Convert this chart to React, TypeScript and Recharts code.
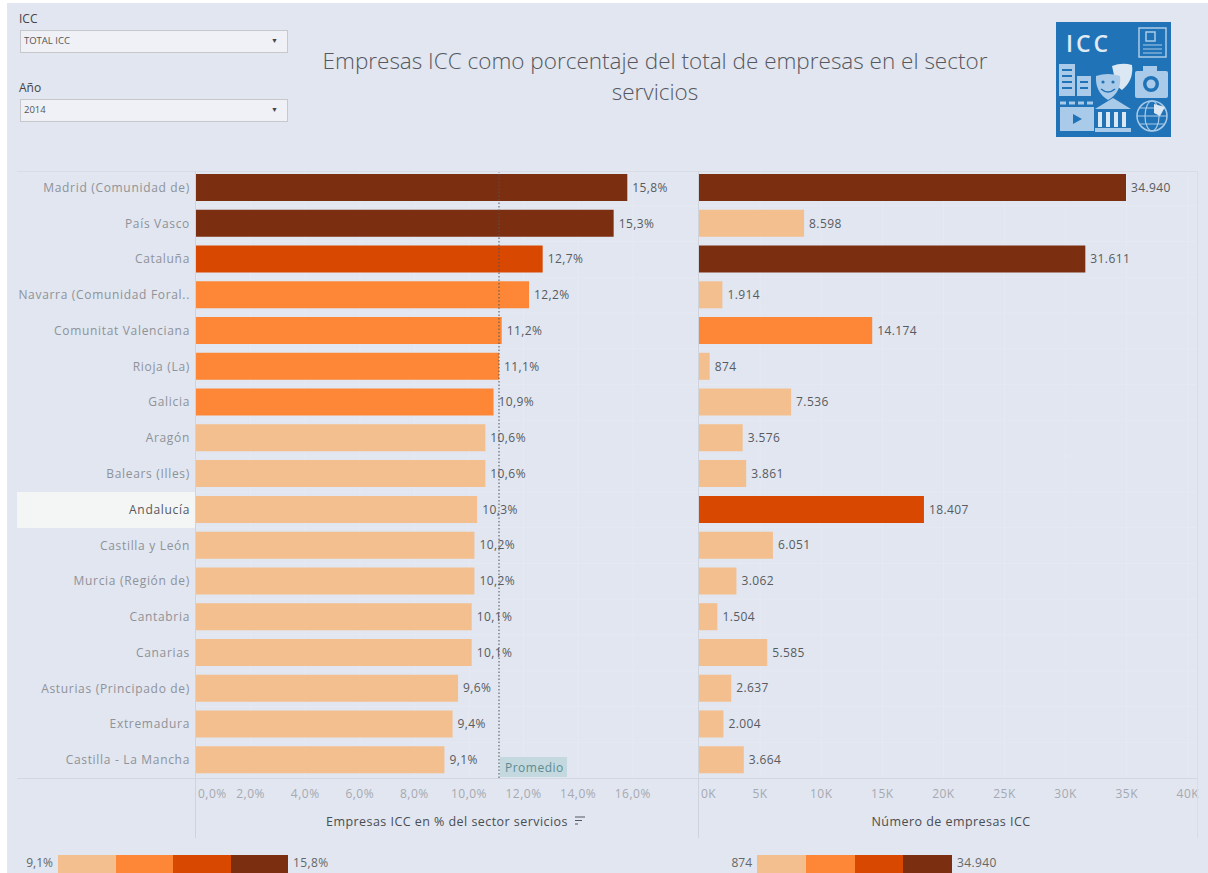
import React from "react";
import { BarChart, Bar, XAxis, YAxis, Cell, CartesianGrid, LabelList, ReferenceLine } from "recharts";

const regions = [
  "Madrid (Comunidad de)", "País Vasco", "Cataluña", "Navarra (Comunidad Foral..", "Comunitat Valenciana",
  "Rioja (La)", "Galicia", "Aragón", "Balears (Illes)", "Andalucía", "Castilla y León", "Murcia (Región de)",
  "Cantabria", "Canarias", "Asturias (Principado de)", "Extremadura", "Castilla - La Mancha",
];
const sharePct = [15.8, 15.3, 12.7, 12.2, 11.2, 11.1, 10.9, 10.6, 10.6, 10.3, 10.2, 10.2, 10.1, 10.1, 9.6, 9.4, 9.1];
const companies = [34940, 8598, 31611, 1914, 14174, 874, 7536, 3576, 3861, 18407, 6051, 3062, 1504, 5585, 2637, 2004, 3664];
const shareTicks = [0, 2, 4, 6, 8, 10, 12, 14, 16];
const companyTicks = [0, 5000, 10000, 15000, 20000, 25000, 30000, 35000, 40000];
const averageShare = 11.1;
const palette = ["#f3bf8e", "#fd8736", "#d94801", "#7c2e10"];
const highlighted = "Andalucía";

const rows = regions.map((region, i) => ({ region, share: sharePct[i], count: companies[i] }));

const FONT = "'Open Sans', sans-serif";
const PLOT_H = 608;
const AXIS_H = 62;
const BAR_H = 27;

const fmtPct = (v: number) => v.toFixed(1).replace(".", ",") + "%";
const fmtCount = (v: number) => String(v).replace(/\B(?=(\d{3})+$)/g, ".");
const fmtK = (v: number) => v / 1000 + "K";

// Four equal steps between the smallest and largest value of a measure.
function stepColor(v: number, list: number[]) {
  const lo = Math.min(...list);
  const hi = Math.max(...list);
  const idx = Math.min(3, Math.floor(((v - lo) / (hi - lo)) * 4));
  return palette[idx];
}

function rowLines(height: number) {
  const step = height / regions.length;
  return regions.slice(1).map((_, i) => step * (i + 1));
}

function XTick({ x, y, payload, format }: any) {
  const first = payload.value === 0;
  return (
    <text x={first ? x + 2 : x} y={y + 12} textAnchor={first ? "start" : "middle"} fontSize={12} fontFamily={FONT} fill="#a6a9b0" letterSpacing={0.5}>
      {format(payload.value)}
    </text>
  );
}

function RegionTick({ x, y, payload }: any) {
  const active = payload.value === highlighted;
  return (
    <text x={x} y={y + 4} textAnchor="end" fontSize={12} fontFamily={FONT} fill={active ? "#55585e" : "#8f9298"} letterSpacing={0.68}>
      {payload.value}
    </text>
  );
}

function AverageTag({ viewBox }: any) {
  const x = viewBox.x + 1;
  const bottom = viewBox.y + viewBox.height;
  return (
    <g>
      <rect x={x} y={bottom - 21} width={67} height={20} fill="#c3d9df" />
      <text x={x + 5} y={bottom - 6} fontSize={12} fontFamily={FONT} fill="#5e8b92" letterSpacing={0.5}>Promedio</text>
    </g>
  );
}

function Dropdown({ top, label, value }: { top: number; label: string; value: string }) {
  return (
    <>
      <div style={{ position: "absolute", left: 19, top: top - 20, fontSize: 12, color: "#444", fontFamily: FONT }}>{label}</div>
      <div style={{ position: "absolute", left: 20, top, width: 266, height: 21, background: "#eff1f6", border: "1px solid #c6c8cc", fontFamily: FONT, fontSize: 9.5, color: "#555", lineHeight: "20px" }}>
        <span style={{ marginLeft: 3 }}>{value}</span>
        <span style={{ position: "absolute", right: 9, top: 0, fontSize: 7, color: "#444" }}>▼</span>
      </div>
    </>
  );
}

function StepLegend({ left, width, lo, hi, loWidth }: { left: number; width: number; lo: string; hi: string; loWidth: number }) {
  return (
    <>
      <div style={{ position: "absolute", left: left - loWidth - 5, width: loWidth, top: 855, textAlign: "right", fontSize: 12, color: "#666", fontFamily: FONT, lineHeight: "16px" }}>{lo}</div>
      <div style={{ position: "absolute", left, top: 855, width, height: 18, display: "flex" }}>
        {palette.map((c) => <div key={c} style={{ flex: 1, background: c }} />)}
      </div>
      <div style={{ position: "absolute", left: left + width + 5, top: 855, fontSize: 12, color: "#666", fontFamily: FONT, lineHeight: "16px", letterSpacing: 0.4 }}>{hi}</div>
    </>
  );
}

function Logo() {
  const pale = "#a9cbe9";
  const base = "#2173b7";
  return (
    <svg style={{ position: "absolute", left: 1056, top: 22 }} width={115} height={115}>
      <rect width={115} height={115} fill={base} />
      <text x={10} y={30} fontSize={23} fontWeight={600} fontFamily={FONT} fill="#dfeaf4" letterSpacing={3}>ICC</text>
      {/* newspaper */}
      <rect x={83} y={6} width={27} height={29} fill="none" stroke={pale} strokeWidth={1.5} />
      <rect x={90} y={10} width={9} height={9} fill="none" stroke={pale} strokeWidth={1.5} />
      <path d="M87 23h19M87 27h19M87 31h19" stroke={pale} strokeWidth={1.2} />
      {/* buildings */}
      <rect x={3} y={42} width={16} height={32} fill={pale} />
      <rect x={21} y={54} width={14} height={20} fill={pale} />
      <path d="M6 48h10M6 54h10M6 60h10M6 66h10M24 60h8M24 66h8" stroke={base} strokeWidth={2} />
      {/* theatre masks */}
      <path d="M56 44q10 -4 20 -1q2 15 -10 25q-3 -2 -6 -6z" fill="#dbe8f3" />
      <path d="M40 54q12 -4 24 0q2 16 -12 24q-13 -8 -12 -24z" fill={pale} />
      <path d="M45 67q7 6 14 0" stroke={base} strokeWidth={1.6} fill="none" />
      <circle cx={47} cy={60} r={1.6} fill={base} />
      <circle cx={57} cy={60} r={1.6} fill={base} />
      {/* camera */}
      <rect x={79} y={49} width={33} height={27} rx={2} fill={pale} />
      <rect x={87} y={44} width={14} height={6} fill={pale} />
      <circle cx={95} cy={62} r={8} fill={base} />
      <circle cx={95} cy={62} r={4.5} fill={pale} />
      {/* clapperboard */}
      <rect x={4} y={85} width={34} height={24} fill={pale} />
      <path d="M4 81h34" stroke={pale} strokeWidth={3} strokeDasharray="6 3" />
      <path d="M17 92l9 5l-9 5z" fill={base} />
      {/* museum */}
      <path d="M57 76l18 11h-36z" fill={pale} />
      <path d="M44 90v15M52 90v15M60 90v15M68 90v15" stroke="#dbe8f3" strokeWidth={4} />
      <rect x={39} y={106} width={36} height={4} fill={pale} />
      {/* globe */}
      <circle cx={96} cy={94} r={15} fill="none" stroke={pale} strokeWidth={1.5} />
      <ellipse cx={96} cy={94} rx={7} ry={15} fill="none" stroke={pale} strokeWidth={1.2} />
      <path d="M81 94h30M84 86h24M84 102h24" stroke={pale} strokeWidth={1.2} />
      <path d="M98 82l11 3l-5 9l-6 -3z" fill="#dbe8f3" />
    </svg>
  );
}

export default function App() {
  const axisTitle = { position: "insideBottom" as const, offset: 14, fontSize: 12.5, fontFamily: FONT, fill: "#4a4d52", letterSpacing: 0.45 };
  return (
    <div style={{ position: "fixed", left: 0, top: 0, width: 1208, height: 873, overflow: "hidden", background: "#fff" }}>
      <div style={{ position: "absolute", left: 7, top: 3, right: 0, bottom: 0, background: "#e1e6f0" }} />

      {/* highlighted row behind the category label */}
      <div style={{ position: "absolute", left: 17, top: 492, width: 178, height: 36, background: "#f4f5f5" }} />

      {/* share of service-sector companies */}
      <div style={{ position: "absolute", left: 0, top: 170 }}>
        <BarChart width={698} height={PLOT_H + AXIS_H} data={rows} layout="vertical" margin={{ top: 0, right: 0, bottom: 0, left: 0 }} barSize={BAR_H}>
          <CartesianGrid stroke="#e6e9f2" horizontalCoordinatesGenerator={() => rowLines(PLOT_H)} />
          <XAxis
            type="number" dataKey="share" domain={[0, 18.39]} ticks={shareTicks} height={AXIS_H} allowDataOverflow
            axisLine={false} tickLine={false} tick={<XTick format={fmtPct} />} interval={0}
            label={{ value: "Empresas ICC en % del sector servicios", ...axisTitle }}
          />
          <YAxis type="category" dataKey="region" width={196} axisLine={false} tickLine={false} tickSize={0} tickMargin={6} tick={<RegionTick />} interval={0} />
          <Bar dataKey="share" isAnimationActive={false}>
            {rows.map((r) => <Cell key={r.region} fill={stepColor(r.share, sharePct)} />)}
            <LabelList dataKey="share" position="right" offset={5} formatter={fmtPct as any} fontSize={12} fontFamily={FONT} fill="#585b60" letterSpacing={0.4} />
          </Bar>
          <ReferenceLine x={averageShare} stroke="#4f5257" strokeDasharray="1.5 2" strokeWidth={1} label={<AverageTag />} />
        </BarChart>
      </div>

      {/* number of companies: the right margin leaves room for the last tick */}
      <div style={{ position: "absolute", left: 699, top: 170 }}>
        <BarChart width={509} height={PLOT_H + AXIS_H} data={rows} layout="vertical" margin={{ top: 0, right: 11, bottom: 0, left: 0 }} barSize={BAR_H}>
          <CartesianGrid stroke="#e6e9f2" horizontalCoordinatesGenerator={() => rowLines(PLOT_H)} />
          <XAxis
            type="number" dataKey="count" domain={[0, 40750]} ticks={companyTicks} height={AXIS_H} allowDataOverflow
            axisLine={false} tickLine={false} tick={<XTick format={fmtK} />} interval={0}
            label={{ value: "Número de empresas ICC", ...axisTitle, dx: 3 }}
          />
          <YAxis type="category" dataKey="region" hide />
          <Bar dataKey="count" isAnimationActive={false}>
            {rows.map((r) => <Cell key={r.region} fill={stepColor(r.count, companies)} />)}
            <LabelList dataKey="count" position="right" offset={5} formatter={fmtCount as any} fontSize={12} fontFamily={FONT} fill="#585b60" letterSpacing={0.4} />
          </Bar>
        </BarChart>
      </div>

      {/* panel rules */}
      <div style={{ position: "absolute", left: 17, top: 171, width: 1180, height: 1, background: "#d8dce4" }} />
      <div style={{ position: "absolute", left: 17, top: 778, width: 1180, height: 1, background: "#d3d7df" }} />
      <div style={{ position: "absolute", left: 195, top: 171, width: 1, height: 667, background: "#cfd3db" }} />
      <div style={{ position: "absolute", left: 698, top: 171, width: 1, height: 667, background: "#cfd3db" }} />
      <div style={{ position: "absolute", left: 1197, top: 171, width: 1, height: 667, background: "#d8dce4" }} />

      {/* sort indicator beside the axis title */}
      <svg style={{ position: "absolute", left: 574, top: 815 }} width={12} height={12}>
        <path d="M1 2h10M1 5.5h7M1 9h3" stroke="#55585e" strokeWidth={1.2} />
      </svg>

      <Dropdown top={30} label="ICC" value="TOTAL ICC" />
      <Dropdown top={99} label="Año" value="2014" />

      <div style={{ position: "absolute", left: 290, top: 45, width: 730, textAlign: "center", fontFamily: FONT, fontWeight: 300, fontSize: 22.5, lineHeight: "31px", color: "#55585e" }}>
        Empresas ICC como porcentaje del total de empresas en el sector servicios
      </div>

      <Logo />

      <StepLegend left={58} width={230} lo="9,1%" hi="15,8%" loWidth={40} />
      <StepLegend left={757} width={195} lo="874" hi="34.940" loWidth={40} />
    </div>
  );
}
